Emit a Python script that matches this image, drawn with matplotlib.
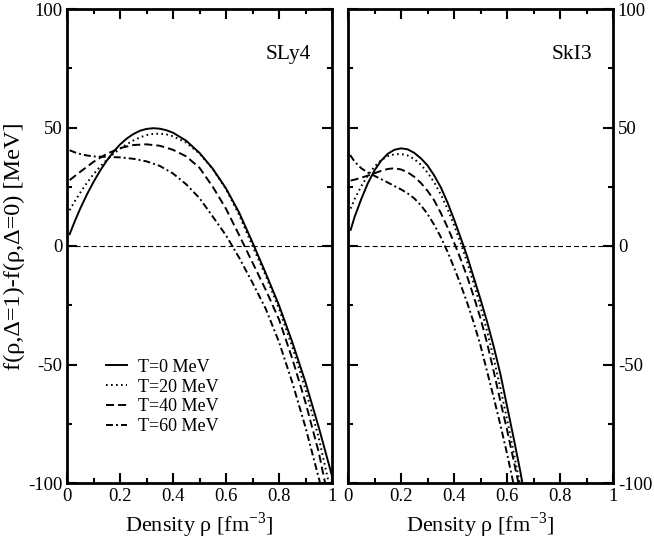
import matplotlib
matplotlib.use('Agg')
import matplotlib.pyplot as plt
from matplotlib.ticker import MultipleLocator, FormatStrFormatter

plt.rcParams['font.family'] = ['Liberation Serif', 'DejaVu Serif']
plt.rcParams['mathtext.fontset'] = 'custom'
plt.rcParams['mathtext.rm'] = 'Liberation Serif'
plt.rcParams['axes.unicode_minus'] = False
plt.rcParams['lines.scale_dashes'] = False

# ---- SLy4 (left panel) ----
sly4_t0_rho = [0.01, 0.03, 0.05, 0.075, 0.1, 0.125, 0.15, 0.175, 0.2, 0.225, 0.25, 0.275, 0.3,
               0.325, 0.35, 0.375, 0.4, 0.45, 0.5, 0.55, 0.6, 0.65, 0.7, 0.75, 0.8, 0.85,
               0.9, 0.95, 1.0]
sly4_t0_val = [5.0, 10.6, 15.8, 21.7, 27.0, 31.8, 36.0, 39.7, 42.8, 45.3, 47.2, 48.6, 49.4,
               49.7, 49.5, 48.85, 47.8, 44.4, 39.3, 32.6, 24.3, 14.0, 1.5, -11.5, -25, -40.5,
               -57.5, -76.5, -97]

sly4_t20_rho = [0.01, 0.03, 0.05, 0.075, 0.1, 0.125, 0.15, 0.175, 0.2, 0.225, 0.25, 0.275, 0.3,
                0.325, 0.35, 0.375, 0.4, 0.45, 0.5, 0.55, 0.6, 0.65, 0.7, 0.75, 0.8, 0.85,
                0.9, 0.95, 0.988]
sly4_t20_val = [15.1, 19.0, 22.5, 26.6, 30.3, 33.5, 36.3, 38.8, 41.0, 42.9, 44.5, 45.8, 46.8,
                47.3, 47.4, 47.1, 46.3, 43.6, 39.0, 32.5, 24.0, 13.0, 0, -12.5, -26.5, -42.5,
                -60.5, -81, -100]

sly4_t40_rho = [0.01, 0.05, 0.1, 0.15, 0.2, 0.25, 0.3, 0.35, 0.4, 0.45, 0.5, 0.55, 0.6, 0.65,
                0.7, 0.75, 0.8, 0.85, 0.9, 0.95, 0.974]
sly4_t40_val = [27.8, 31.3, 35.5, 38.9, 41.3, 42.6, 42.9, 42.3, 40.6, 37.8, 33.0, 25.0, 15.7, 4.5,
                -7, -18.5, -31, -47.5, -66, -87, -100]

sly4_t60_rho = [0.01, 0.03, 0.05, 0.075, 0.1, 0.15, 0.2, 0.25, 0.3, 0.35, 0.4, 0.45, 0.5, 0.55,
                0.6, 0.65, 0.7, 0.75, 0.8, 0.85, 0.9, 0.955]
sly4_t60_val = [40.4, 39.5, 38.8, 38.2, 37.8, 37.6, 37.4, 36.8, 35.7, 33.8, 30.6, 26.0, 20.2, 12.4,
                4.5, -5.0, -15.5, -26.5, -40.5, -57.5, -76.5, -100]

# ---- SkI3 (right panel) ----
ski3_t0_rho = [0.01, 0.025, 0.05, 0.075, 0.1, 0.125, 0.15, 0.175, 0.2, 0.225, 0.25, 0.275, 0.3,
               0.325, 0.35, 0.375, 0.4, 0.425, 0.45, 0.475, 0.5, 0.525, 0.55, 0.575, 0.6, 0.625,
               0.65, 0.658]
ski3_t0_val = [6.8, 12.3, 19.8, 26.5, 31.9, 36.0, 38.9, 40.6, 41.2, 40.8, 39.3, 37.0, 34.0,
               29.8, 24.8, 18.5, 11.3, 3.5, -4.5, -13.5, -22.5, -32, -42.5, -54, -67.5, -81,
               -95, -100]

ski3_t20_rho = [0.01, 0.025, 0.05, 0.075, 0.1, 0.125, 0.15, 0.175, 0.2, 0.225, 0.25, 0.275, 0.3,
                0.325, 0.35, 0.375, 0.4, 0.425, 0.45, 0.475, 0.5, 0.525, 0.55, 0.575, 0.6, 0.625,
                0.648]
ski3_t20_val = [15.8, 19.8, 25.2, 29.8, 33.5, 36.2, 37.9, 38.7, 38.8, 38.2, 36.7, 34.3, 31.0,
                26.9, 21.8, 15.8, 8.9, 1.3, -7, -16, -25.5, -36, -47.5, -60, -73, -87, -100]

ski3_t40_rho = [0.01, 0.025, 0.05, 0.075, 0.1, 0.125, 0.15, 0.175, 0.2, 0.225, 0.25, 0.275, 0.3,
                0.325, 0.35, 0.375, 0.4, 0.425, 0.45, 0.475, 0.5, 0.525, 0.55, 0.575, 0.6, 0.625,
                0.643]
ski3_t40_val = [27.6, 28.0, 28.8, 29.7, 30.7, 31.7, 32.5, 32.8, 32.3, 31.1, 29.2, 26.6, 23.3,
                19.3, 14.0, 8.0, 1.5, -5.5, -13, -21.5, -30.5, -41, -53, -65.5, -77.5, -90.5, -100]

ski3_t60_rho = [0.008, 0.025, 0.05, 0.075, 0.1, 0.125, 0.15, 0.175, 0.2, 0.225, 0.25, 0.275, 0.3,
                0.325, 0.35, 0.375, 0.4, 0.425, 0.45, 0.475, 0.5, 0.525, 0.55, 0.575, 0.6, 0.624]
ski3_t60_val = [38.4, 35.6, 32.8, 31.0, 29.6, 28.2, 26.8, 25.3, 23.9, 22.2, 20.1, 17.2, 13.5,
                9.0, 3.8, -2.3, -9.0, -16.3, -24, -32.5, -42, -53, -64, -75.5, -87.5, -100]

labels = ['T=0 MeV', 'T=20 MeV', 'T=40 MeV', 'T=60 MeV']
styles = ['-', (0, (1.2, 2.4)), (0, (5.8, 2.9)), (0, (5.0, 2.2, 1.4, 2.2))]

panels = [
    ('SLy4', [(sly4_t0_rho, sly4_t0_val), (sly4_t20_rho, sly4_t20_val),
              (sly4_t40_rho, sly4_t40_val), (sly4_t60_rho, sly4_t60_val)]),
    ('SkI3', [(ski3_t0_rho, ski3_t0_val), (ski3_t20_rho, ski3_t20_val),
              (ski3_t40_rho, ski3_t40_val), (ski3_t60_rho, ski3_t60_val)]),
]

fig = plt.figure(figsize=(6.54, 5.45), dpi=100)
axes = [fig.add_axes([67 / 654, 62 / 545, 265 / 654, 474 / 545]),
        fig.add_axes([348 / 654, 62 / 545, 265 / 654, 474 / 545])]

for i, (ax, (name, curves)) in enumerate(zip(axes, panels)):
    ax.axhline(0, color='black', lw=0.8, linestyle=(0, (3.6, 2.2)))
    for (rho, val), ls, lab in zip(curves, styles, labels):
        ax.plot(rho, val, color='black', lw=1.4, linestyle=ls, label=lab)

    ax.set_xlim(0, 1)
    ax.set_ylim(-100, 100)
    ax.xaxis.set_major_locator(MultipleLocator(0.2))
    ax.xaxis.set_minor_locator(MultipleLocator(0.1))
    ax.yaxis.set_major_locator(MultipleLocator(50))
    ax.yaxis.set_minor_locator(MultipleLocator(25))
    ax.xaxis.set_major_formatter(FormatStrFormatter('%g'))
    ax.yaxis.set_major_formatter(FormatStrFormatter('%g'))
    ax.tick_params(which='both', direction='in', top=True, right=True, width=1.5,
                   labelsize=13.5)
    ax.tick_params(which='major', length=7)
    ax.tick_params(which='minor', length=3.5)
    for sp in ax.spines.values():
        sp.set_linewidth(2)
    ax.set_xlabel('Density ρ [fm$^{-3}$]', fontsize=16, labelpad=4)
    ax.text(0.922, 0.905, name, transform=ax.transAxes, ha='right', va='center',
            fontsize=15.5)
    if i == 1:
        ax.tick_params(axis='y', labelleft=False, labelright=True)

axes[0].set_ylabel('f(ρ,Δ=1)-f(ρ,Δ=0) [MeV]', fontsize=17.5, labelpad=2)
axes[0].legend(loc='upper left', bbox_to_anchor=(0.147, 0.262), frameon=False,
               fontsize=13, handlelength=1.16, handletextpad=0.6, labelspacing=0.15,
               borderpad=0, borderaxespad=0)

fig.savefig('out.png', dpi=100)
